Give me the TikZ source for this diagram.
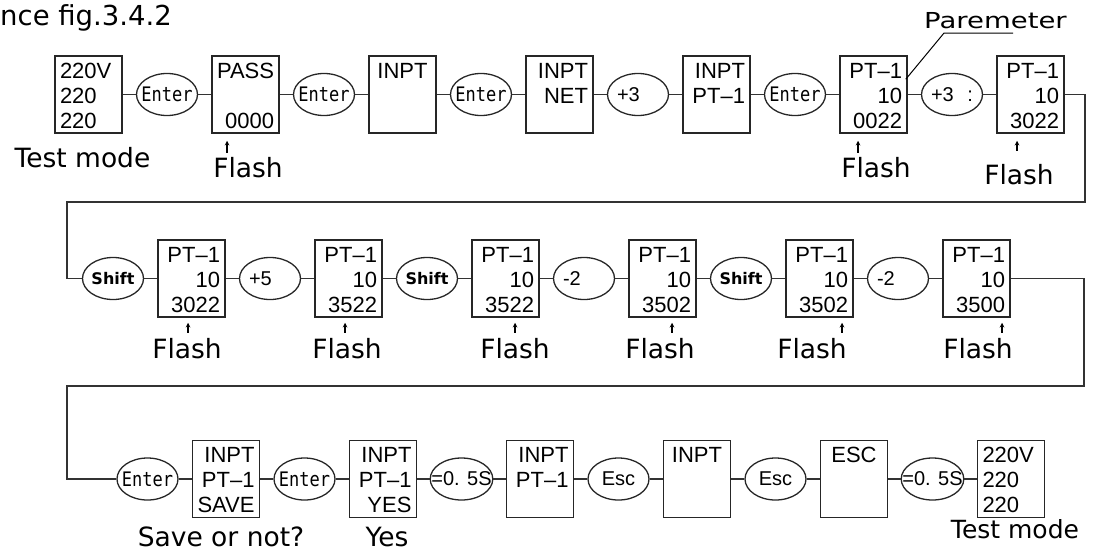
\documentclass[tikz,border=0pt]{standalone}
\usepackage{fontspec}
\usetikzlibrary{positioning,shapes.geometric}

\newfontfamily\dispfam{Liberation Sans}
\newfontfamily\monofam[FakeStretch=0.85]{DejaVu Sans Mono}
\newfontfamily\notefam{DejaVu Sans}
\newfontfamily\widefam[FakeStretch=1.25]{DejaVu Sans}

% one display line, three lines per screen
\newcommand{\ds}{\rule[-4pt]{0pt}{25pt}}
\newcommand{\screen}[3]{\ds#1\\\ds#2\\\ds#3}

\begin{document}
\begin{tikzpicture}[
    x=1pt, y=-1pt,
    node distance=78.5pt,
    >=stealth,
    box/.style={rectangle, draw=black!85, line width=1.5pt, minimum width=67pt, minimum height=77pt, text width=57pt, inner sep=0pt, font=\dispfam\fontsize{22pt}{25pt}\selectfont},
    boxr/.style={box, align=right},
    boxl/.style={box, align=left},
    boxc/.style={box, align=center},
    key/.style={ellipse, draw=black!85, line width=1.3pt, minimum width=61pt, minimum height=42pt, inner xsep=-8pt, inner ysep=0pt, font=\monofam\fontsize{20pt}{22pt}\selectfont},
    numkey/.style={key, font=\dispfam\fontsize{20pt}{22pt}\selectfont},
    leftkey/.style={numkey, text width=42pt, align=left},
    shiftkey/.style={key, font=\notefam\bfseries\fontsize{16pt}{18pt}\selectfont},
    note/.style={anchor=base, inner sep=0pt, font=\notefam\fontsize{26.5pt}{30pt}\selectfont},
    link/.style={draw=black!80, line width=1.4pt},
    tick/.style={->, line width=1.1pt},
    pointer/.style={line width=1pt}
]
    \useasboundingbox (0,0) rectangle (1094,554);

    % Title
    \node (title) [anchor=base west, inner sep=0pt, font=\notefam\fontsize{27.5pt}{30pt}\selectfont] at (0,25) {nce fig.3.4.2};

    % Row 1: enter the parameter
    \node (mode) [boxl] at (88.5,94.5) {\screen{220V}{220}{220}};
    \node (enter1) [key, right of=mode] {Enter};
    \node (pass) [boxr, right of=enter1] {\screen{PASS}{}{0000}};
    \node (enter2) [key, right of=pass] {Enter};
    \node (inpt) [boxc, right of=enter2] {\screen{INPT}{}{}};
    \node (enter3) [key, right of=inpt] {Enter};
    \node (net) [boxr, right of=enter3] {\screen{INPT}{NET}{}};
    \node (plus3) [leftkey, right of=net] {+3};
    \node (pt) [boxr, right of=plus3] {\screen{INPT}{PT–1}{}};
    \node (enter4) [key, right of=pt] {Enter};
    \node (p0022) [boxr, right of=enter4] {\screen{PT–1}{10}{0022}};
    \node (plus3b) [leftkey, right of=p0022] {+3\hfill:};
    \node (p3022) [boxr, right of=plus3b] {\screen{PT–1}{10}{3022}};

    % Row 2: change the digits
    \node (shift1) [shiftkey] at (113,278.5) {Shift};
    \node (q3022) [boxr, right of=shift1] {\screen{PT–1}{10}{3022}};
    \node (plus5) [leftkey, right of=q3022] {+5};
    \node (q3522) [boxr, right of=plus5] {\screen{PT–1}{10}{3522}};
    \node (shift2) [shiftkey, right of=q3522] {Shift};
    \node (r3522) [boxr, right of=shift2] {\screen{PT–1}{10}{3522}};
    \node (minus2) [leftkey, right of=r3522] {-2};
    \node (q3502) [boxr, right of=minus2] {\screen{PT–1}{10}{3502}};
    \node (shift3) [shiftkey, right of=q3502] {Shift};
    \node (r3502) [boxr, right of=shift3] {\screen{PT–1}{10}{3502}};
    \node (minus2b) [leftkey, right of=r3502] {-2};
    \node (q3500) [boxr, right of=minus2b] {\screen{PT–1}{10}{3500}};

    % Row 3: save and back to test mode
    \node (enter5) [key] at (147.5,479) {Enter};
    \node (save) [boxr, right of=enter5] {\screen{INPT}{PT–1}{SAVE}};
    \node (enter6) [key, right of=save] {Enter};
    \node (yes) [boxr, right of=enter6] {\screen{INPT}{PT–1}{YES}};
    \node (wait1) [numkey, right of=yes] {=0. 5S};
    \node (back) [boxr, right of=wait1] {\screen{INPT}{PT–1}{}};
    \node (esc1) [numkey, right of=back] {Esc};
    \node (menu) [boxc, right of=esc1] {\screen{INPT}{}{}};
    \node (esc2) [numkey, right of=menu] {Esc};
    \node (escbox) [boxc, right of=esc2] {\screen{ESC}{}{}};
    \node (wait2) [numkey, right of=escbox] {=0. 5S};
    \node (mode2) [boxl, right of=wait2] {\screen{220V}{220}{220}};

    % Labels
    \node (modetxt) [note] at (82.5,167) {Test mode};
    \node (fpass) [note] at (248,177) {Flash};
    \node (f0022) [note] at (876,177) {Flash};
    \node (f3022) [note] at (1019,184) {Flash};
    \node (g3022) [note] at (187,358) {Flash};
    \node (g3522) [note] at (347,358) {Flash};
    \node (h3522) [note] at (515,358) {Flash};
    \node (g3502) [note] at (660,358) {Flash};
    \node (h3502) [note] at (812,358) {Flash};
    \node (g3500) [note] at (978,358) {Flash};
    \node (savetxt) [note] at (221,546) {Save or not?};
    \node (yestxt) [note] at (387,546) {Yes};
    \node (mode2txt) [note, font=\notefam\fontsize{25pt}{28pt}\selectfont] at (1015,538) {Test mode};
    \node (pm) [anchor=base, inner sep=0pt, font=\widefam\fontsize{22pt}{26pt}\selectfont] at (995.5,28) {Paremeter};

    % Row links
    \draw [link] (mode) -- (enter1);   \draw [link] (enter1) -- (pass);
    \draw [link] (pass) -- (enter2);   \draw [link] (enter2) -- (inpt);
    \draw [link] (inpt) -- (enter3);   \draw [link] (enter3) -- (net);
    \draw [link] (net) -- (plus3);     \draw [link] (plus3) -- (pt);
    \draw [link] (pt) -- (enter4);     \draw [link] (enter4) -- (p0022);
    \draw [link] (p0022) -- (plus3b);  \draw [link] (plus3b) -- (p3022);

    \draw [link] (shift1) -- (q3022);  \draw [link] (q3022) -- (plus5);
    \draw [link] (plus5) -- (q3522);   \draw [link] (q3522) -- (shift2);
    \draw [link] (shift2) -- (r3522);  \draw [link] (r3522) -- (minus2);
    \draw [link] (minus2) -- (q3502);  \draw [link] (q3502) -- (shift3);
    \draw [link] (shift3) -- (r3502);  \draw [link] (r3502) -- (minus2b);
    \draw [link] (minus2b) -- (q3500);

    \draw [link] (enter5) -- (save);   \draw [link] (save) -- (enter6);
    \draw [link] (enter6) -- (yes);    \draw [link] (yes) -- (wait1);
    \draw [link] (wait1) -- (back);    \draw [link] (back) -- (esc1);
    \draw [link] (esc1) -- (menu);     \draw [link] (menu) -- (esc2);
    \draw [link] (esc2) -- (escbox);   \draw [link] (escbox) -- (wait2);
    \draw [link] (wait2) -- (mode2);

    % Wrap to next row
    \coordinate (turnA) at (1085,202);
    \coordinate (turnB) at (67,202);
    \coordinate (turnC) at (1084,386);
    \coordinate (turnD) at (67,386);
    \draw [link] (p3022.east) -| (turnA) -- (turnB) |- (shift1.west);
    \draw [link] (q3500.east) -| (turnC) -- (turnD) |- (enter5.west);

    % Flashing digit marks
    \draw [tick] ([xshift=-18.5pt,yshift=-19pt]pass.south) -- ++(0,-12);
    \draw [tick] ([xshift=-15.5pt,yshift=-19pt]p0022.south) -- ++(0,-12);
    \draw [tick] ([xshift=-13.5pt,yshift=-17pt]p3022.south) -- ++(0,-10);
    \draw [tick] ([xshift=-3.5pt,yshift=-15pt]q3022.south) -- ++(0,-10);
    \draw [tick] ([xshift=-3.5pt,yshift=-15pt]q3522.south) -- ++(0,-10);
    \draw [tick] ([xshift=9.5pt,yshift=-15pt]r3522.south) -- ++(0,-10);
    \draw [tick] ([xshift=9.5pt,yshift=-15pt]q3502.south) -- ++(0,-10);
    \draw [tick] ([xshift=22.5pt,yshift=-15pt]r3502.south) -- ++(0,-10);
    \draw [tick] ([xshift=25.5pt,yshift=-15pt]q3500.south) -- ++(0,-10);

    % Parameter pointer
    \draw [pointer] ([xshift=-2pt,yshift=-24pt]p0022.north east) -- ([xshift=20pt,yshift=-5pt]pm.base west) -- ++(69,0);

\end{tikzpicture}
\end{document}
